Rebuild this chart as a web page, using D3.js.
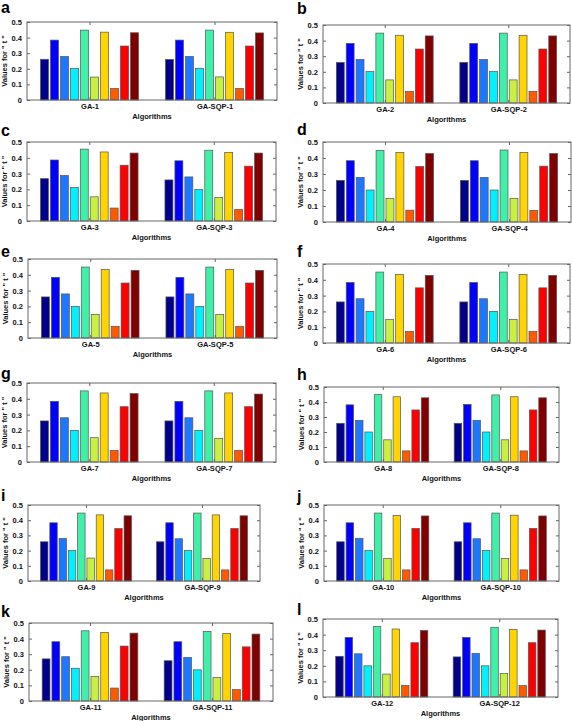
<!DOCTYPE html>
<html><head><meta charset="utf-8">
<script src="https://cdn.jsdelivr.net/npm/d3@7"></script>
<style>
html,body{margin:0;padding:0;background:#fff;}
svg{display:block;}
text{font-family:Arial,"Liberation Sans",sans-serif;font-weight:bold;}
</style></head>
<body>
<svg id="c" width="572" height="721"></svg>
<script>
// ---------- data ----------
const panelLetters = ["a","b","c","d","e","f","g","h","i","j","k","l"];
const yTicks = [0, 0.1, 0.2, 0.3, 0.4, 0.5];
const yLabel = 'Values for " t "';
const xLabel = "Algorithms";
const seriesColors = ["#00008B","#0000FF","#1E78FF","#00F0FF","#40F0A8","#C8F040","#FFD400","#FF5A00","#FF0000","#800000"];

const gaValues = [
  [0.261,0.384,0.279,0.203,0.448,0.147,0.435,0.074,0.346,0.431],
  [0.260,0.382,0.279,0.201,0.448,0.148,0.434,0.075,0.346,0.430],
  [0.268,0.386,0.288,0.212,0.455,0.153,0.437,0.082,0.353,0.430],
  [0.260,0.383,0.279,0.200,0.447,0.148,0.435,0.074,0.346,0.428],
  [0.260,0.384,0.279,0.200,0.449,0.149,0.434,0.074,0.348,0.428],
  [0.260,0.383,0.280,0.200,0.449,0.149,0.434,0.074,0.349,0.428],
  [0.260,0.384,0.280,0.200,0.450,0.154,0.437,0.074,0.350,0.433],
  [0.258,0.381,0.278,0.200,0.449,0.148,0.435,0.074,0.347,0.428],
  [0.258,0.383,0.280,0.200,0.447,0.151,0.435,0.073,0.345,0.429],
  [0.258,0.383,0.281,0.202,0.447,0.149,0.432,0.073,0.346,0.428],
  [0.270,0.380,0.284,0.210,0.450,0.158,0.440,0.083,0.352,0.435],
  [0.261,0.382,0.277,0.200,0.451,0.147,0.436,0.074,0.348,0.426]
];
const sqpValues = [
  [0.260,0.384,0.279,0.203,0.448,0.148,0.434,0.074,0.346,0.430],
  [0.260,0.382,0.279,0.201,0.448,0.148,0.434,0.075,0.346,0.430],
  [0.260,0.381,0.279,0.200,0.448,0.149,0.434,0.074,0.347,0.430],
  [0.260,0.383,0.279,0.200,0.450,0.148,0.435,0.073,0.349,0.428],
  [0.260,0.384,0.279,0.200,0.449,0.149,0.434,0.074,0.348,0.428],
  [0.260,0.383,0.280,0.200,0.449,0.149,0.434,0.074,0.349,0.428],
  [0.260,0.384,0.280,0.200,0.450,0.150,0.437,0.074,0.350,0.430],
  [0.258,0.384,0.278,0.200,0.447,0.148,0.435,0.074,0.347,0.428],
  [0.258,0.383,0.278,0.200,0.447,0.149,0.435,0.073,0.345,0.429],
  [0.258,0.383,0.278,0.200,0.447,0.149,0.433,0.073,0.346,0.428],
  [0.258,0.380,0.280,0.200,0.446,0.150,0.432,0.073,0.347,0.429],
  [0.257,0.382,0.280,0.200,0.447,0.150,0.433,0.073,0.348,0.429]
];
const categoryNames = panelLetters.map((d,i)=>["GA-"+(i+1),"GA-SQP-"+(i+1)]);

// ---------- layout ----------
const frames = [
  {l:27,r:277,t:22,b:100, lx:1, ly:13},
  {l:323,r:570,t:25,b:103, lx:297, ly:14},
  {l:27,r:276,t:142,b:221, lx:1, ly:136},
  {l:323,r:571,t:142,b:222, lx:297, ly:135},
  {l:28,r:277,t:259,b:338, lx:1, ly:257},
  {l:323,r:570,t:264,b:343, lx:297, ly:257},
  {l:27,r:276,t:383,b:462, lx:1, ly:379},
  {l:324,r:559,t:387,b:462, lx:297, ly:380},
  {l:28,r:260,t:505,b:581, lx:1, ly:501},
  {l:324,r:559,t:505,b:581, lx:297, ly:502},
  {l:29,r:273,t:623,b:701, lx:1, ly:617},
  {l:323,r:558,t:619,b:697, lx:297, ly:615}
];

const svg = d3.select("#c");
const nS = seriesColors.length;
const groupW = 0.8, barFrac = 0.8;

frames.forEach((f,p)=>{
  const g = svg.append("g");
  const x = d3.scaleLinear().domain([0.5,2.5]).range([f.l,f.r]);
  const y = d3.scaleLinear().domain([0,0.5]).range([f.b,f.t]);
  const data = [gaValues[p], sqpValues[p]];
  const slot = groupW / nS;
  data.forEach((vals,gi)=>{
    const center = gi+1;
    g.selectAll(null).data(vals).enter().append("rect")
      .attr("x",(v,i)=>x(center - groupW/2 + slot*(i+0.5) - slot*barFrac/2))
      .attr("width",(v,i)=>x(slot*barFrac)-x(0))
      .attr("y",v=>y(v))
      .attr("height",v=>y(0)-y(v))
      .attr("fill",(v,i)=>seriesColors[i])
      .attr("stroke","#555").attr("stroke-width",0.7);
  });
  // axes
  const yAx = d3.axisLeft(y).tickValues(yTicks).tickSize(-3).tickPadding(5)
    .tickFormat(d=>d===0?"0":d3.format(".1f")(d));
  const ya = g.append("g").attr("transform",`translate(${f.l},0)`).call(yAx);
  ya.select(".domain").remove();
  ya.selectAll("line").attr("stroke","#666");
  ya.selectAll("text").attr("font-size",7.5).attr("fill","#111").attr("font-weight","bold");
  const yAxR = d3.axisRight(y).tickValues(yTicks).tickSize(-3).tickFormat("");
  const yr = g.append("g").attr("transform",`translate(${f.r},0)`).call(yAxR);
  yr.select(".domain").remove(); yr.selectAll("line").attr("stroke","#666");
  const xAx = d3.axisBottom(x).tickValues([1,2]).tickSize(-3).tickPadding(4)
    .tickFormat(d=>categoryNames[p][d-1]);
  const xa = g.append("g").attr("transform",`translate(0,${f.b})`).call(xAx);
  xa.select(".domain").remove(); xa.selectAll("line").attr("stroke","#666");
  xa.selectAll("text").attr("font-size",7.5).attr("fill","#111").attr("font-weight","bold");
  const xAxT = d3.axisTop(x).tickValues([1,2]).tickSize(-3).tickFormat("");
  const xt = g.append("g").attr("transform",`translate(0,${f.t})`).call(xAxT);
  xt.select(".domain").remove(); xt.selectAll("line").attr("stroke","#666");
  // frame
  g.append("rect").attr("x",f.l).attr("y",f.t).attr("width",f.r-f.l).attr("height",f.b-f.t)
    .attr("fill","none").attr("stroke","#666").attr("stroke-width",1);
  // labels
  g.append("text").attr("x",(f.l+f.r)/2).attr("y",f.b+19).attr("text-anchor","middle")
    .attr("font-size",7.5).attr("fill","#111").text(xLabel);
  g.append("text").attr("transform",`translate(${f.l-20},${(f.t+f.b)/2}) rotate(-90)`)
    .attr("text-anchor","middle").attr("font-size",7.5).attr("fill","#111").text(yLabel);
  g.append("text").attr("x",f.lx).attr("y",f.ly).attr("font-size",16).attr("fill","#000")
    .text(panelLetters[p]);
});
</script>
</body></html>
